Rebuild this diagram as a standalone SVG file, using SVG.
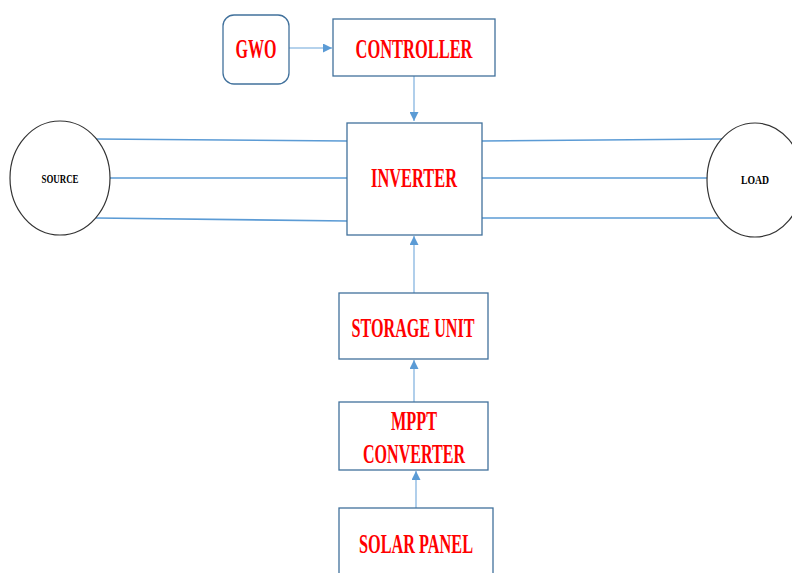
<svg xmlns="http://www.w3.org/2000/svg" width="792" height="573" viewBox="0 0 792 573">
<defs>
<marker id="arr" viewBox="0 0 10 10" refX="10" refY="5" markerWidth="9" markerHeight="9" markerUnits="userSpaceOnUse" orient="auto">
<path d="M0,0 L10,5 L0,10 z" fill="#5B9BD5"/>
</marker>
<style>
.box{fill:#fff;stroke:#41719C;stroke-width:1.3}
.circ{fill:#fff;stroke:#333;stroke-width:1.2}
.lbl{font-family:"Liberation Serif","Times New Roman",serif;font-weight:bold;fill:#FF0000;font-size:28px}
.blk{font-family:"Liberation Serif","Times New Roman",serif;font-weight:bold;fill:#000;font-size:13px}
.ln{stroke:#5B9BD5;stroke-width:1.6;fill:none}
.ar{stroke:#9DC3E6;stroke-width:1.6;fill:none;marker-end:url(#arr)}
</style>
</defs>
<rect width="792" height="573" fill="#fff"/>
<g id="connectors">
<line class="ar" x1="289" y1="48" x2="332" y2="48"/>
<line class="ar" x1="414" y1="76" x2="414" y2="121"/>
<line class="ln" x1="96" y1="139" x2="347" y2="141"/>
<line class="ln" x1="110" y1="178" x2="347" y2="178"/>
<line class="ln" x1="96" y1="218" x2="347" y2="221"/>
<line class="ln" x1="482" y1="141" x2="722" y2="139"/>
<line class="ln" x1="482" y1="178" x2="708" y2="178"/>
<line class="ln" x1="482" y1="218" x2="722" y2="218"/>
<line class="ar" x1="414" y1="293" x2="414" y2="236"/>
<line class="ar" x1="414" y1="402" x2="414" y2="360"/>
<line class="ar" x1="416" y1="508" x2="416" y2="471"/>
</g>
<g id="gwo">
<rect class="box" x="223" y="15" width="66" height="69" rx="11"/>
<text class="lbl" x="256" y="58" text-anchor="middle" textLength="41" lengthAdjust="spacingAndGlyphs">GWO</text>
</g>
<g id="controller">
<rect class="box" x="333" y="19" width="162" height="57"/>
<text class="lbl" x="414" y="58" text-anchor="middle" textLength="117" lengthAdjust="spacingAndGlyphs">CONTROLLER</text>
</g>
<g id="source">
<ellipse class="circ" cx="60" cy="178" rx="50" ry="57"/>
<text class="blk" x="60" y="183" text-anchor="middle" textLength="37" lengthAdjust="spacingAndGlyphs">SOURCE</text>
</g>
<g id="inverter">
<rect class="box" x="347" y="123" width="135" height="112"/>
<text class="lbl" x="414" y="187" text-anchor="middle" textLength="86" lengthAdjust="spacingAndGlyphs">INVERTER</text>
</g>
<g id="load">
<ellipse class="circ" cx="755" cy="180" rx="48" ry="57"/>
<text class="blk" x="755" y="184" text-anchor="middle" textLength="28" lengthAdjust="spacingAndGlyphs">LOAD</text>
</g>
<g id="storage">
<rect class="box" x="339" y="293" width="149" height="66"/>
<text class="lbl" x="413" y="337" text-anchor="middle" textLength="123" lengthAdjust="spacingAndGlyphs">STORAGE UNIT</text>
</g>
<g id="mppt">
<rect class="box" x="339" y="402" width="149" height="68"/>
<text class="lbl" x="414" y="430" text-anchor="middle" textLength="46" lengthAdjust="spacingAndGlyphs">MPPT</text>
<text class="lbl" x="414" y="463" text-anchor="middle" textLength="102" lengthAdjust="spacingAndGlyphs">CONVERTER</text>
</g>
<g id="solar">
<rect class="box" x="339" y="508" width="154" height="80"/>
<text class="lbl" x="416" y="553" text-anchor="middle" textLength="114" lengthAdjust="spacingAndGlyphs">SOLAR PANEL</text>
</g>
</svg>
